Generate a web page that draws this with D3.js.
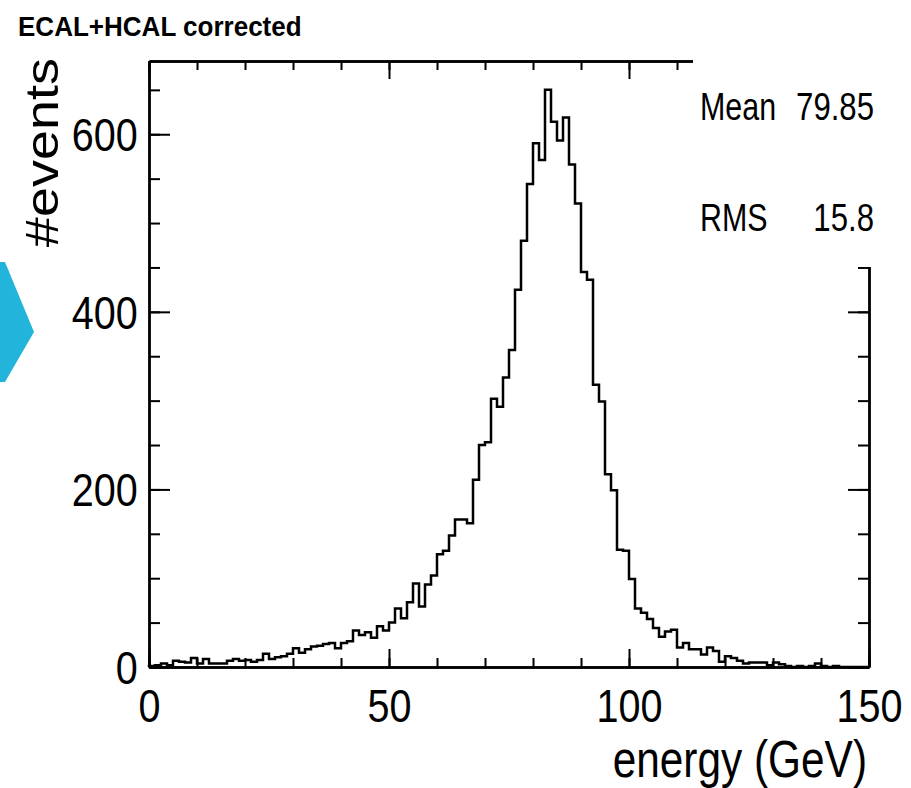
<!DOCTYPE html>
<html>
<head>
<meta charset="utf-8">
<script src="https://cdn.jsdelivr.net/npm/d3@7"></script>
<style>
  body { margin: 0; background: #fff; }
  svg { display: block; font-family: "Liberation Sans", Arial, sans-serif; }
</style>
</head>
<body>
<div id="chart"></div>
<script>
// energy histogram, 120 bins from 0 to 150 GeV
const binRange = [0, 150];
const counts = [
  1, 2, 4, 2, 7, 6, 5, 10, 4, 9,
  4, 4, 4, 7, 9, 7, 8, 6, 8, 15,
  9, 11, 12, 15, 21, 16, 20, 23, 24, 26,
  27, 21, 27, 29, 41, 36, 39, 33, 46, 41,
  50, 66, 55, 73, 94, 68, 93, 103, 127, 131,
  148, 166, 166, 162, 211, 250, 253, 302, 293, 326,
  357, 425, 480, 544, 590, 571, 650, 614, 593, 619,
  566, 522, 445, 436, 318, 299, 217, 199, 132, 131,
  99, 66, 61, 54, 44, 34, 40, 42, 22, 27,
  20, 20, 14, 22, 18, 6, 12, 10, 7, 4,
  5, 5, 5, 2, 5, 3, 1, 0, 1, 0,
  1, 4, 1, 0, 1, 0, 0, 0, 0, 0
];
const xTicks = [0, 50, 100, 150];
const yTicks = [0, 200, 400, 600];
const statNames = ["Mean", "RMS"];
const statValues = ["79.85", "15.8"];
const title = "ECAL+HCAL corrected";
const xTitle = "energy (GeV)";
const yTitle = "#events";

const W = 911, H = 788;
const frame = { left: 149, right: 869, top: 61, bottom: 667 };
const squeeze = 0.86; // the source picture is a bit narrow in x

const svg = d3.select("#chart").append("svg")
  .attr("width", W).attr("height", H);

const x = d3.scaleLinear().domain(binRange).range([frame.left, frame.right]);
const yMax = d3.max(counts) * 1.05;
const y = d3.scaleLinear().domain([0, yMax]).range([frame.bottom, frame.top]);

const binW = (binRange[1] - binRange[0]) / counts.length;

// blue arrow at the left edge
svg.append("path")
  .attr("d", "M0,262 L5,262 L34,332 L5,382 L0,382 Z")
  .attr("fill", "#23b4db");

// histogram outline
const pts = [[binRange[0], 0]];
counts.forEach((c, i) => pts.push([binRange[0] + i * binW, c]));
pts.push([binRange[1], counts[counts.length - 1]]);
pts.push([binRange[1], 0]);
const line = d3.line()
  .x(d => x(d[0]))
  .y(d => y(d[1]))
  .curve(d3.curveStepAfter);
svg.append("path")
  .attr("d", line(pts))
  .attr("fill", "none")
  .attr("stroke", "#000")
  .attr("stroke-width", 2.5);

// axes: major + minor ticks, all pointing inward
function styleAxis(g) {
  g.select(".domain").attr("stroke-width", 2.4).attr("stroke", "#000");
  g.selectAll(".tick line").attr("stroke-width", 2).attr("stroke", "#000");
}
const xMinor = d3.range(0, 151, 10);
const yMinor = d3.range(0, 651, 50);

svg.append("g").attr("transform", `translate(0,${frame.bottom})`)
  .call(d3.axisBottom(x).tickValues(xMinor).tickSize(-9).tickSizeOuter(0).tickFormat(""))
  .call(styleAxis);
svg.append("g").attr("transform", `translate(0,${frame.bottom})`)
  .call(d3.axisBottom(x).tickValues(xTicks).tickSize(-18).tickSizeOuter(0).tickPadding(22))
  .call(styleAxis)
  .call(g => g.selectAll("text")
    .attr("font-size", 46).attr("fill", "#000")
    .attr("font-family", "Liberation Sans, Arial, sans-serif")
    .attr("transform", `scale(${squeeze},1)`));

svg.append("g").attr("transform", `translate(0,${frame.top})`)
  .call(d3.axisTop(x).tickValues(xMinor).tickSize(-9).tickSizeOuter(0).tickFormat(""))
  .call(styleAxis);
svg.append("g").attr("transform", `translate(0,${frame.top})`)
  .call(d3.axisTop(x).tickValues(xTicks).tickSize(-18).tickSizeOuter(0).tickFormat(""))
  .call(styleAxis);

svg.append("g").attr("transform", `translate(${frame.left},0)`)
  .call(d3.axisLeft(y).tickValues(yMinor).tickSize(-11).tickSizeOuter(0).tickFormat(""))
  .call(styleAxis);
svg.append("g").attr("transform", `translate(${frame.left},0)`)
  .call(d3.axisLeft(y).tickValues(yTicks).tickSize(-21).tickSizeOuter(0).tickPadding(13))
  .call(styleAxis)
  .call(g => g.selectAll("text")
    .attr("font-size", 46).attr("fill", "#000")
    .attr("font-family", "Liberation Sans, Arial, sans-serif")
    .attr("dy", "0.36em")
    .attr("transform", `scale(${squeeze},1)`));

svg.append("g").attr("transform", `translate(${frame.right},0)`)
  .call(d3.axisRight(y).tickValues(yMinor).tickSize(-11).tickSizeOuter(0).tickFormat(""))
  .call(styleAxis);
svg.append("g").attr("transform", `translate(${frame.right},0)`)
  .call(d3.axisRight(y).tickValues(yTicks).tickSize(-21).tickSizeOuter(0).tickFormat(""))
  .call(styleAxis);

// statistics box (white, hides the frame corner)
svg.append("rect")
  .attr("x", 693).attr("y", 50).attr("width", W - 693).attr("height", 217)
  .attr("fill", "#fff");

const statY = [120, 231];
statNames.forEach((n, i) => {
  svg.append("text")
    .attr("transform", `translate(700,${statY[i]}) scale(0.8,1)`)
    .attr("font-size", 38).text(n);
  svg.append("text")
    .attr("transform", `translate(874,${statY[i]}) scale(0.82,1)`)
    .attr("text-anchor", "end")
    .attr("font-size", 38).text(statValues[i]);
});

// titles
svg.append("text")
  .attr("transform", "translate(18,36) scale(0.93,1)")
  .attr("font-size", 28).attr("font-weight", "bold")
  .text(title);

svg.append("text")
  .attr("transform", "translate(867,777) scale(0.815,1)")
  .attr("text-anchor", "end")
  .attr("font-size", 52)
  .text(xTitle);

svg.append("text")
  .attr("transform", `translate(58,58) rotate(-90) scale(1,${squeeze})`)
  .attr("text-anchor", "end")
  .attr("font-size", 54)
  .text(yTitle);
</script>
</body>
</html>
